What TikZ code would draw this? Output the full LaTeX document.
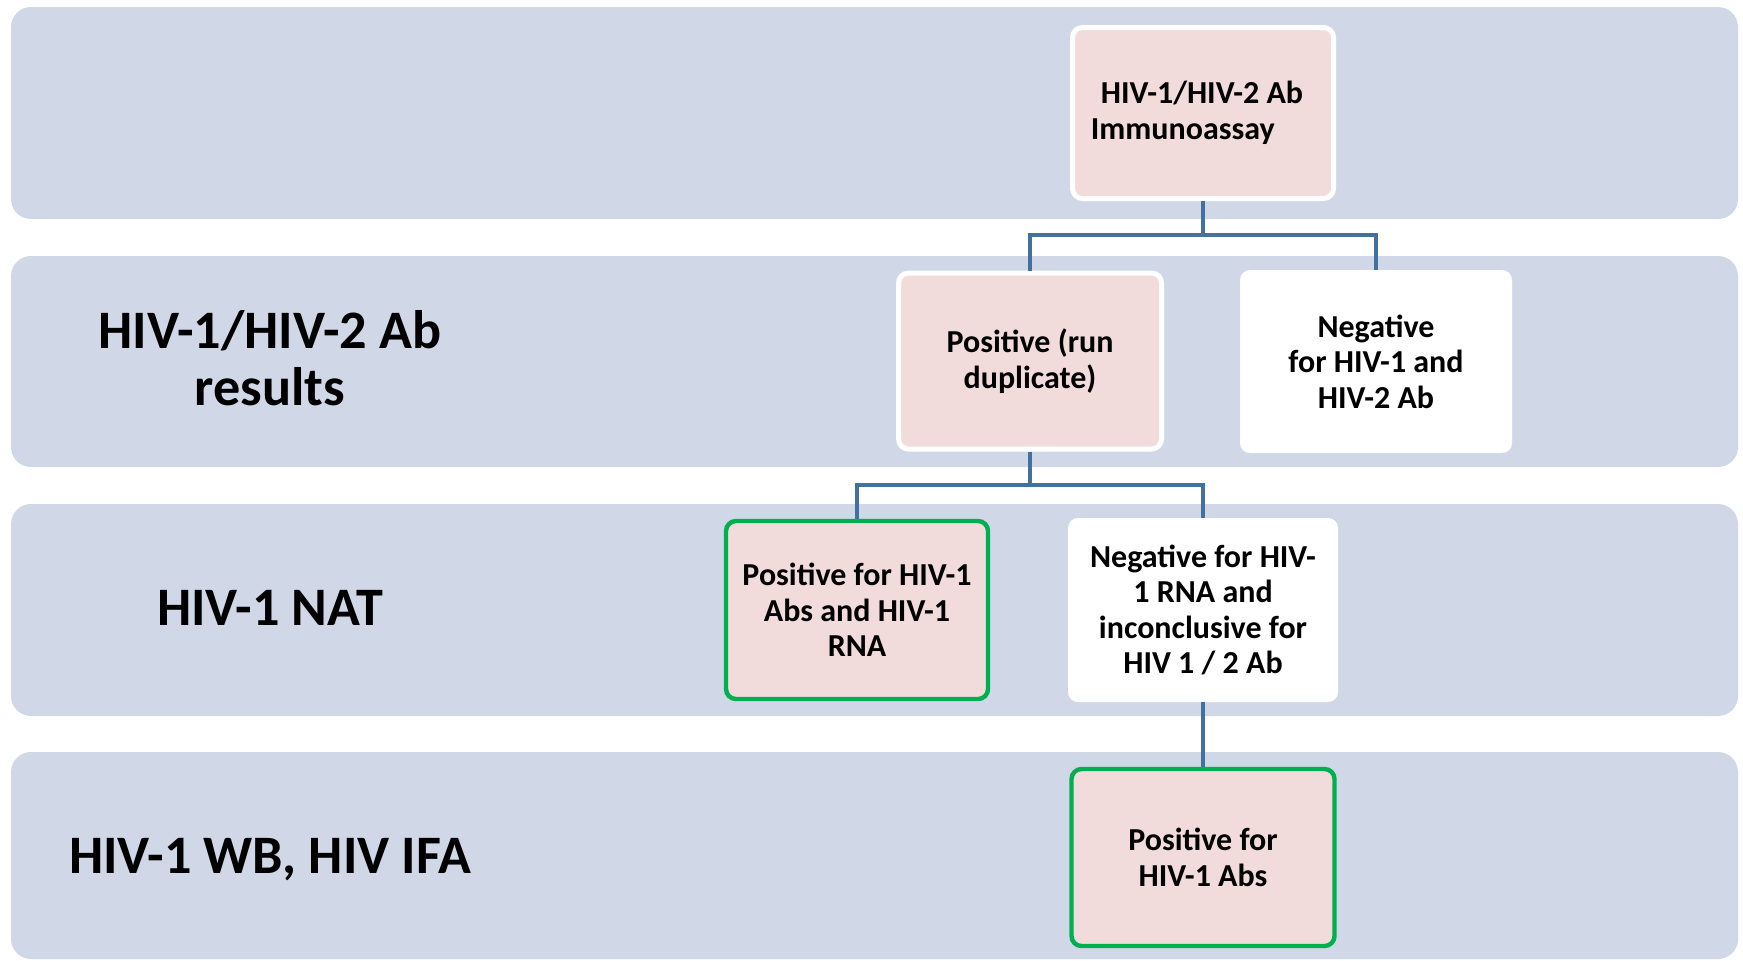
\documentclass[tikz,border=0pt]{standalone}
\usepackage{fontspec}
\setmainfont{Carlito}
\definecolor{bandcol}{RGB}{208,216,232}
\definecolor{pinkcol}{RGB}{242,220,219}
\definecolor{greencol}{RGB}{0,176,80}
\definecolor{linecol}{RGB}{65,113,156}
\tikzset{
  band/.style={fill=bandcol,rounded corners=10pt},
  rowlabel/.style={font=\bfseries\fontsize{27.1}{28.5}\selectfont,align=center,inner sep=0pt},
  box/.style={rounded corners=5pt,align=center,inner sep=0pt,font=\bfseries\fontsize{16}{17.8}\selectfont},
  pinkbox/.style={box,fill=pinkcol,draw=white,line width=2.5pt},
  whitebox/.style={box,fill=white},
  greenbox/.style={box,fill=pinkcol,draw=greencol,line width=2.2pt},
  conn/.style={draw=linecol,line width=2pt}
}
\begin{document}
\begin{tikzpicture}[x=0.5pt,y=-0.5pt]
\useasboundingbox (0,0) rectangle (1743,960);

\fill[band] (11,7) rectangle (1738,219);
\fill[band] (11,256) rectangle (1738,467);
\fill[band] (11,504) rectangle (1738,716);
\fill[band] (11,752) rectangle (1738,959);

\node (abres) at (270,358) [rowlabel] {HIV-1/HIV-2 Ab\\results};
\node (nat) at (270,608) [rowlabel] {HIV-1 NAT};
\node (wbifa) at (270,860) [rowlabel] {HIV-1 WB, HIV IFA};

\node (imm) at (1203,113) [pinkbox,minimum width=130.5pt,minimum height=85.5pt,align=left] {\hspace{5pt}HIV-1/HIV-2 Ab\hspace*{6pt}\\Immunoassay};
\node (pos) at (1030,361) [pinkbox,minimum width=131.5pt,minimum height=88pt] {Positive (run\\duplicate)};
\node (neg) at (1376,361.5) [whitebox,minimum width=136pt,minimum height=91.5pt] {Negative\\for HIV-1 and\\HIV-2 Ab};
\node (posrna) at (857,610) [greenbox,minimum width=131pt,minimum height=89pt] {Positive for HIV-1\\Abs and HIV-1\\RNA};
\node (negrna) at (1203,610) [whitebox,minimum width=135pt,minimum height=92pt] {Negative for HIV-\\1 RNA and\\inconclusive for\\HIV 1 / 2 Ab};
\node (posabs) at (1203,857.5) [greenbox,minimum width=131.5pt,minimum height=88.5pt] {Positive for\\HIV-1 Abs};

\draw[conn] (imm.south) -- ++(0,34) -| (pos.north);
\draw[conn] (imm.south) -- ++(0,34) -| (neg.north);
\draw[conn] (pos.south) -- ++(0,33) -| (posrna.north);
\draw[conn] (pos.south) -- ++(0,33) -| (negrna.north);
\draw[conn] (negrna.south) -- (posabs.north);

\end{tikzpicture}
\end{document}
